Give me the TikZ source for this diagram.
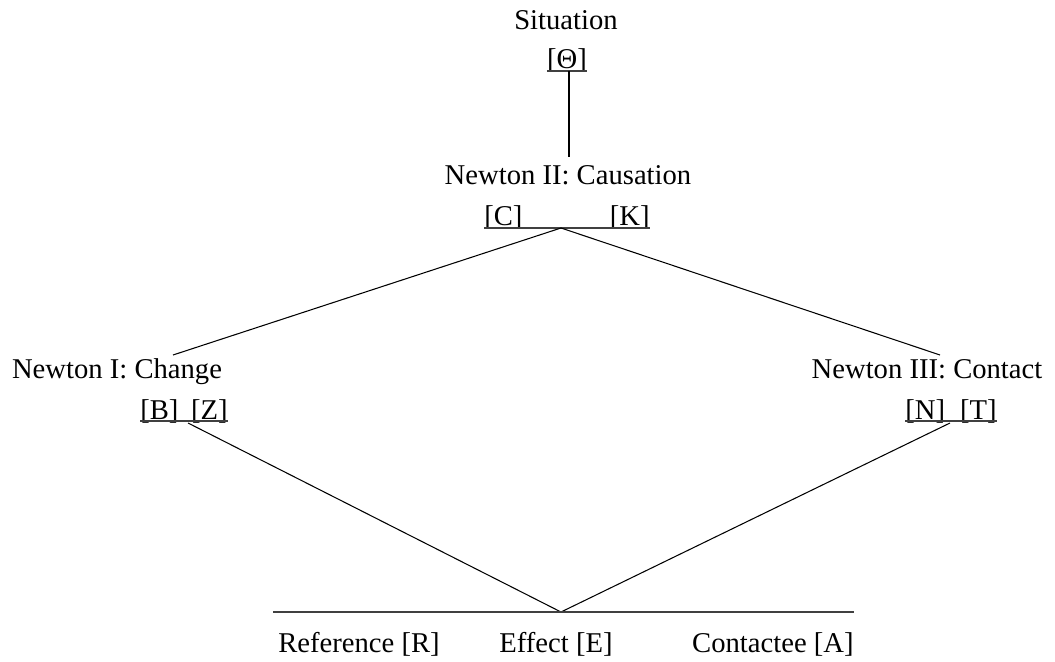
\documentclass[tikz,border=0pt]{standalone}
\usepackage{fontspec}
\setmainfont{Liberation Serif}
\usepackage{tikz}

\begin{document}
\begin{tikzpicture}[x=0.02cm, y=-0.02cm,
    lbl/.style={inner sep=0pt, font=\fontsize{16.3}{19}\selectfont},
    bar/.style={black!75, line width=1pt},
    link/.style={black, line width=0.6pt}]
  \useasboundingbox (0,0) rectangle (1055,662);

  \node[lbl, anchor=base] (sit) at (566,30) {Situation};
  \node[lbl, anchor=base] (theta) at (567,69) {[Θ]};
  \draw[bar] ([yshift=-1.1pt]theta.base west) -- ([yshift=-1.1pt]theta.base east);

  \node[lbl, anchor=base] (caus) at (568,185) {Newton II: Causation};
  \node[lbl, anchor=base west] (cc) at (484,226) {[C]};
  \node[lbl, anchor=base east] (kk) at (650,226) {[K]};
  \draw[bar] ([yshift=-1.1pt]cc.base west) -- ([yshift=-1.1pt]kk.base east);

  \node[lbl, anchor=base] (change) at (117,378) {Newton I: Change};
  \node[lbl, anchor=base west] (bb) at (140,419) {[B]};
  \node[lbl, anchor=base east] (zz) at (228,419) {[Z]};
  \draw[bar] ([yshift=-1.1pt]bb.base west) -- ([yshift=-1.1pt]zz.base east);

  \node[lbl, anchor=base] (contact) at (927,378) {Newton III: Contact};
  \node[lbl, anchor=base west] (nn) at (905,419) {[N]};
  \node[lbl, anchor=base east] (tt) at (997,419) {[T]};
  \draw[bar] ([yshift=-1.1pt]nn.base west) -- ([yshift=-1.1pt]tt.base east);

  \node[lbl, anchor=base west] (ref) at (278,652) {Reference [R]};
  \node[lbl, anchor=base] (eff) at (556,652) {Effect [E]};
  \node[lbl, anchor=base east] (con) at (854,652) {Contactee [A]};

  \coordinate (thetafoot) at (569,71);
  \coordinate (caushead) at (569,157);
  \coordinate (cpeak) at (561,228);
  \coordinate (chhead) at (173,355);
  \coordinate (cthead) at (940,355);
  \coordinate (bzfoot) at (188,423);
  \coordinate (ntfoot) at (950,423);
  \coordinate (epeak) at (561,612);
  \coordinate (baseL) at (273,612);
  \coordinate (baseR) at (854,612);

  \draw[link] (thetafoot) -- (caushead);
  \draw[link] (cpeak) -- (chhead);
  \draw[link] (cpeak) -- (cthead);
  \draw[link] (bzfoot) -- (epeak);
  \draw[link] (ntfoot) -- (epeak);
  \draw[bar] (baseL) -- (baseR);
\end{tikzpicture}
\end{document}
